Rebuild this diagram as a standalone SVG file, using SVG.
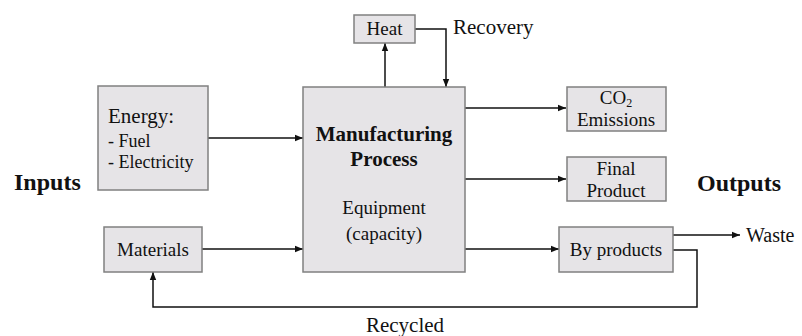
<svg xmlns="http://www.w3.org/2000/svg" width="802" height="336" viewBox="0 0 802 336" font-family="'Liberation Serif', 'DejaVu Serif', serif">
<style>
  .box { fill: #e6e4e7; stroke: #808080; stroke-width: 1.5; }
  .t { font-family: 'Liberation Serif', 'DejaVu Serif', serif; fill: #111; }
  .c { text-anchor: middle; }
  .b { font-weight: bold; }
  .conn { fill: none; stroke: #111; stroke-width: 1.5; }
</style>
<defs>
  <marker id="ah" viewBox="0 0 10 10" refX="10" refY="5" markerWidth="8" markerHeight="8" markerUnits="userSpaceOnUse" orient="auto">
    <path d="M0,1 L10,5 L0,9 Z" fill="#111"/>
  </marker>
</defs>
<rect width="802" height="336" fill="#ffffff"/>

<g id="connectors">
  <path class="conn" d="M385,87 V43" marker-end="url(#ah)"/>
  <path class="conn" d="M415,29 H446 V87" marker-end="url(#ah)"/>
  <path class="conn" d="M208,138 H303" marker-end="url(#ah)"/>
  <path class="conn" d="M202,249 H303" marker-end="url(#ah)"/>
  <path class="conn" d="M465,108 H566" marker-end="url(#ah)"/>
  <path class="conn" d="M465,179 H566" marker-end="url(#ah)"/>
  <path class="conn" d="M465,249 H559" marker-end="url(#ah)"/>
  <path class="conn" d="M673,235 H740" marker-end="url(#ah)"/>
  <path class="conn" d="M673,250 H697 V307 H153 V272" marker-end="url(#ah)"/>
</g>

<g id="heat">
  <rect class="box" x="354" y="15" width="61" height="28"/>
  <text class="t c" x="384.5" y="35" font-size="19">Heat</text>
</g>
<g id="recovery-label">
  <text class="t" x="453" y="34" font-size="21">Recovery</text>
</g>

<g id="energy">
  <rect class="box" x="98" y="86" width="110" height="104"/>
  <text class="t" x="108" y="123" font-size="21">Energy:</text>
  <text class="t" x="108" y="147" font-size="18">- Fuel</text>
  <text class="t" x="108" y="168" font-size="18">- Electricity</text>
</g>

<g id="inputs-label">
  <text class="t b" x="14" y="190" font-size="24">Inputs</text>
</g>

<g id="materials">
  <rect class="box" x="104" y="227" width="98" height="45"/>
  <text class="t c" x="153" y="256" font-size="19">Materials</text>
</g>

<g id="process">
  <rect class="box" x="303" y="87" width="162" height="185"/>
  <text class="t c b" x="384" y="141" font-size="21">Manufacturing</text>
  <text class="t c b" x="384" y="166" font-size="21">Process</text>
  <text class="t c" x="384" y="214" font-size="19">Equipment</text>
  <text class="t c" x="384" y="240" font-size="19">(capacity)</text>
</g>

<g id="co2">
  <rect class="box" x="567" y="87" width="99" height="44"/>
  <text class="t c" x="616" y="104" font-size="19">CO<tspan font-size="12" baseline-shift="-3">2</tspan></text>
  <text class="t c" x="616" y="126" font-size="19">Emissions</text>
</g>

<g id="final">
  <rect class="box" x="567" y="157" width="99" height="44"/>
  <text class="t c" x="616" y="175" font-size="19">Final</text>
  <text class="t c" x="616" y="197" font-size="19">Product</text>
</g>

<g id="outputs-label">
  <text class="t b" x="697" y="191" font-size="24">Outputs</text>
</g>

<g id="byproducts">
  <rect class="box" x="559" y="227" width="114" height="45"/>
  <text class="t c" x="616" y="256" font-size="19">By products</text>
</g>

<g id="waste-label">
  <text class="t" x="746" y="242" font-size="20">Waste</text>
</g>

<g id="recycled-label">
  <text class="t c" x="405" y="332" font-size="21">Recycled</text>
</g>
</svg>
